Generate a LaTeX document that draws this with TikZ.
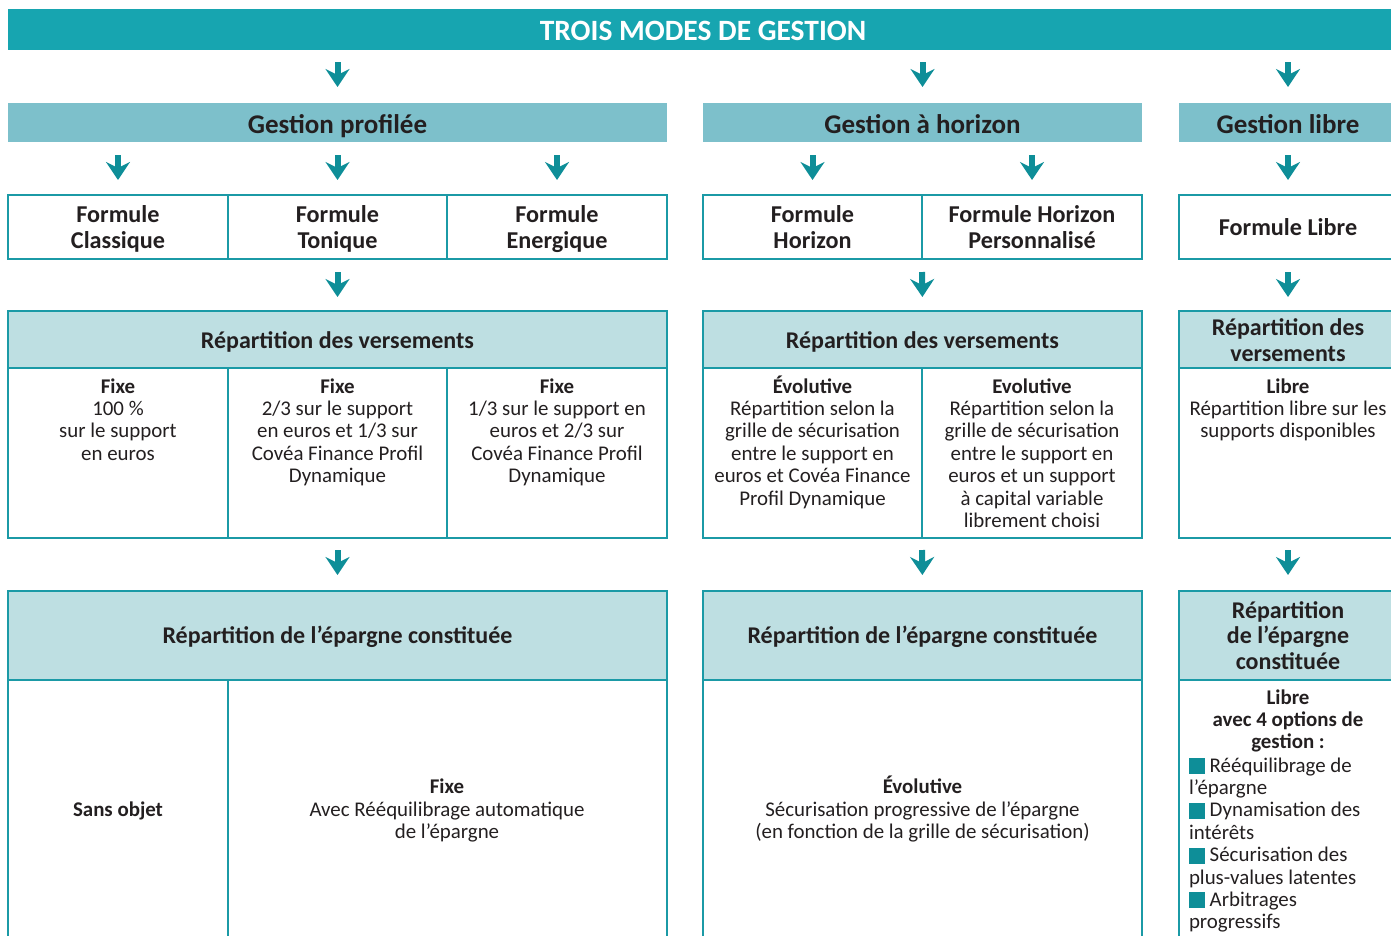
\documentclass[tikz,border=0pt]{standalone}
\usepackage{fontspec}
\setmainfont{Carlito}
\usetikzlibrary{arrows.meta}
\definecolor{topc}{HTML}{17A5B0}
\definecolor{gestc}{HTML}{7DC0CB}
\definecolor{lightc}{HTML}{BEDFE2}
\definecolor{bordc}{HTML}{1B9AA6}
\definecolor{arrc}{HTML}{0E8E98}
\definecolor{txtc}{HTML}{231F20}
\tikzset{
  base/.style={anchor=north west, inner sep=0pt, outer sep=0pt},
  topbar/.style={base, fill=topc},
  gesthead/.style={base, fill=gestc},
  cell/.style={base, draw=bordc, line width=1.6pt},
  lhead/.style={base, draw=bordc, fill=lightc, line width=1.6pt},
  txt/.style={inner sep=0pt, outer sep=0pt, text=txtc, align=center},
  ttl/.style={txt, anchor=base, font=\bfseries\fontsize{29.5}{32}\selectfont, text=white},
  gtxt/.style={txt, anchor=base, font=\bfseries\fontsize{27}{30}\selectfont},
  ftxt/.style={txt, anchor=base, font=\bfseries\fontsize{24.2}{26}\selectfont},
  htxt/.style={txt, anchor=base, font=\bfseries\fontsize{24}{25.5}\selectfont},
  btxt/.style={txt, anchor=north, font=\fontsize{20.9}{22.4}\selectfont},
  ctxt/.style={txt, anchor=base, font=\fontsize{20.9}{22.4}\selectfont},
  arr/.style={draw=arrc, line width=6pt, -{Stealth[width=24pt, length=18pt, inset=6pt]}},
}
\newcommand{\tst}{\rule{0pt}{18pt}}
\newcommand{\bsq}{\textcolor{arrc}{\rule[-2pt]{16pt}{16pt}}}
\begin{document}
\begin{tikzpicture}[x=1pt,y=-1pt]
\useasboundingbox (0,0) rectangle (1391,935);
% top bar
\node[topbar, minimum width=1400pt, minimum height=41pt] (top) at (8,9) {};
\node[ttl] (toptxt) at (703,40.5) {TROIS MODES DE GESTION};
% gestion heads
\node[gesthead, minimum width=659pt, minimum height=39pt] (gp) at (8,103) {};
\node[gesthead, minimum width=439pt, minimum height=39pt] (gh) at (703,103) {};
\node[gesthead, minimum width=230pt, minimum height=39pt] (gl) at (1179,103) {};
\node[gtxt] (gptxt) at (337.5,133) {Gestion profilée};
\node[gtxt] (ghtxt) at (922.5,133) {Gestion à horizon};
\node[gtxt] (gltxt) at (1288,133) {Gestion libre};
% formules
\node[cell, minimum width=220pt, minimum height=64pt] (f1) at (8,195) {};
\node[cell, minimum width=219pt, minimum height=64pt] (f2) at (228,195) {};
\node[cell, minimum width=220pt, minimum height=64pt] (f3) at (447,195) {};
\node[cell, minimum width=219pt, minimum height=64pt] (f4) at (703,195) {};
\node[cell, minimum width=220pt, minimum height=64pt] (f5) at (922,195) {};
\node[cell, minimum width=230pt, minimum height=64pt] (f6) at (1179,195) {};
\node[ftxt] (f1t) at (118,248) {Formule\\Classique};
\node[ftxt] (f2t) at (337.5,248) {Formule\\Tonique};
\node[ftxt] (f3t) at (557,248) {Formule\\Energique};
\node[ftxt] (f4t) at (812.5,248) {Formule\\Horizon};
\node[ftxt] (f5t) at (1032,248) {Formule Horizon\\Personnalisé};
\node[ftxt] (f6t) at (1288,235) {Formule Libre};
% versements
\node[lhead, minimum width=659pt, minimum height=57pt] (v1) at (8,311) {};
\node[lhead, minimum width=439pt, minimum height=57pt] (v2) at (703,311) {};
\node[lhead, minimum width=230pt, minimum height=57pt] (v3) at (1179,311) {};
\node[htxt] (v1t) at (337.5,348) {Répartition des versements};
\node[htxt] (v2t) at (922.5,348) {Répartition des versements};
\node[htxt] (v3t) at (1288,361) {Répartition des\\versements};
\node[cell, minimum width=220pt, minimum height=170pt] (c1) at (8,368) {};
\node[cell, minimum width=219pt, minimum height=170pt] (c2) at (228,368) {};
\node[cell, minimum width=220pt, minimum height=170pt] (c3) at (447,368) {};
\node[cell, minimum width=219pt, minimum height=170pt] (c4) at (703,368) {};
\node[cell, minimum width=220pt, minimum height=170pt] (c5) at (922,368) {};
\node[cell, minimum width=230pt, minimum height=170pt] (c6) at (1179,368) {};
\node[btxt] (c1t) at (118,375) {\tst\textbf{Fixe}\\100 \%\\sur le support\\en euros};
\node[btxt] (c2t) at (337.5,375) {\tst\textbf{Fixe}\\2/3 sur le support\\en euros et 1/3 sur\\Covéa Finance Profil\\Dynamique};
\node[btxt] (c3t) at (557,375) {\tst\textbf{Fixe}\\1/3 sur le support en\\euros et 2/3 sur\\Covéa Finance Profil\\Dynamique};
\node[btxt] (c4t) at (812.5,375) {\tst\textbf{Évolutive}\\Répartition selon la\\grille de sécurisation\\entre le support en\\euros et Covéa Finance\\Profil Dynamique};
\node[btxt] (c5t) at (1032,375) {\tst\textbf{Evolutive}\\Répartition selon la\\grille de sécurisation\\entre le support en\\euros et un support\\à capital variable\\librement choisi};
\node[btxt] (c6t) at (1288,375) {\tst\textbf{Libre}\\Répartition libre sur les\\supports disponibles};
% epargne
\node[lhead, minimum width=659pt, minimum height=89pt] (e1) at (8,591) {};
\node[lhead, minimum width=439pt, minimum height=89pt] (e2) at (703,591) {};
\node[lhead, minimum width=230pt, minimum height=89pt] (e3) at (1179,591) {};
\node[htxt] (e1t) at (337.5,643.5) {Répartition de l’épargne constituée};
\node[htxt] (e2t) at (922.5,643.5) {Répartition de l’épargne constituée};
\node[htxt] (e3t) at (1288,669) {Répartition\\de l’épargne\\constituée};
\node[cell, minimum width=220pt, minimum height=280pt] (b1) at (8,680) {};
\node[cell, minimum width=439pt, minimum height=280pt] (b2) at (228,680) {};
\node[cell, minimum width=439pt, minimum height=280pt] (b3) at (703,680) {};
\node[cell, minimum width=230pt, minimum height=280pt] (b4) at (1179,680) {};
\node[ctxt] (b1t) at (118,816) {\textbf{Sans objet}};
\node[ctxt] (b2t) at (447,838.5) {\textbf{Fixe}\\Avec Rééquilibrage automatique\\de l’épargne};
\node[ctxt] (b3t) at (922.5,838.5) {\textbf{Évolutive}\\Sécurisation progressive de l’épargne\\(en fonction de la grille de sécurisation)};
\node[btxt] (b4h) at (1288,686) {\tst\textbf{Libre}\\\textbf{avec 4 options de}\\\textbf{gestion :}};
\node[btxt, align=left, anchor=north west] (b4l) at (1189,754) {\tst\bsq\ Rééquilibrage de\\l’épargne\\\bsq\ Dynamisation des\\intérêts\\\bsq\ Sécurisation des\\plus-values latentes\\\bsq\ Arbitrages\\progressifs};
% arrows
\draw[arr, shorten <=12pt, shorten >=16pt] (top.south -| gp.north) -- (gp.north);
\draw[arr, shorten <=12pt, shorten >=16pt] (top.south -| gh.north) -- (gh.north);
\draw[arr, shorten <=12pt, shorten >=16pt] (top.south -| gltxt.north) -- (gltxt.north |- gl.north);
\draw[arr, shorten <=13pt, shorten >=15pt] (gp.south -| f1.north) -- (f1.north);
\draw[arr, shorten <=13pt, shorten >=15pt] (gp.south -| f2.north) -- (f2.north);
\draw[arr, shorten <=13pt, shorten >=15pt] (gp.south -| f3.north) -- (f3.north);
\draw[arr, shorten <=13pt, shorten >=15pt] (gh.south -| f4.north) -- (f4.north);
\draw[arr, shorten <=13pt, shorten >=15pt] (gh.south -| f5.north) -- (f5.north);
\draw[arr, shorten <=13pt, shorten >=15pt] (gl.south -| gltxt.north) -- (gltxt.north |- f6.north);
\draw[arr, shorten <=13pt, shorten >=14pt] (f2.south) -- (f2.south |- v1.north);
\draw[arr, shorten <=13pt, shorten >=14pt] (f4.south east) -- (v2.north);
\draw[arr, shorten <=13pt, shorten >=14pt] (f6.south -| gltxt.north) -- (gltxt.north |- v3.north);
\draw[arr, shorten <=12pt, shorten >=16pt] (c2.south) -- (c2.south |- e1.north);
\draw[arr, shorten <=12pt, shorten >=16pt] (c4.south east) -- (e2.north);
\draw[arr, shorten <=12pt, shorten >=16pt] (c6.south -| gltxt.north) -- (gltxt.north |- e3.north);
\end{tikzpicture}
\end{document}
